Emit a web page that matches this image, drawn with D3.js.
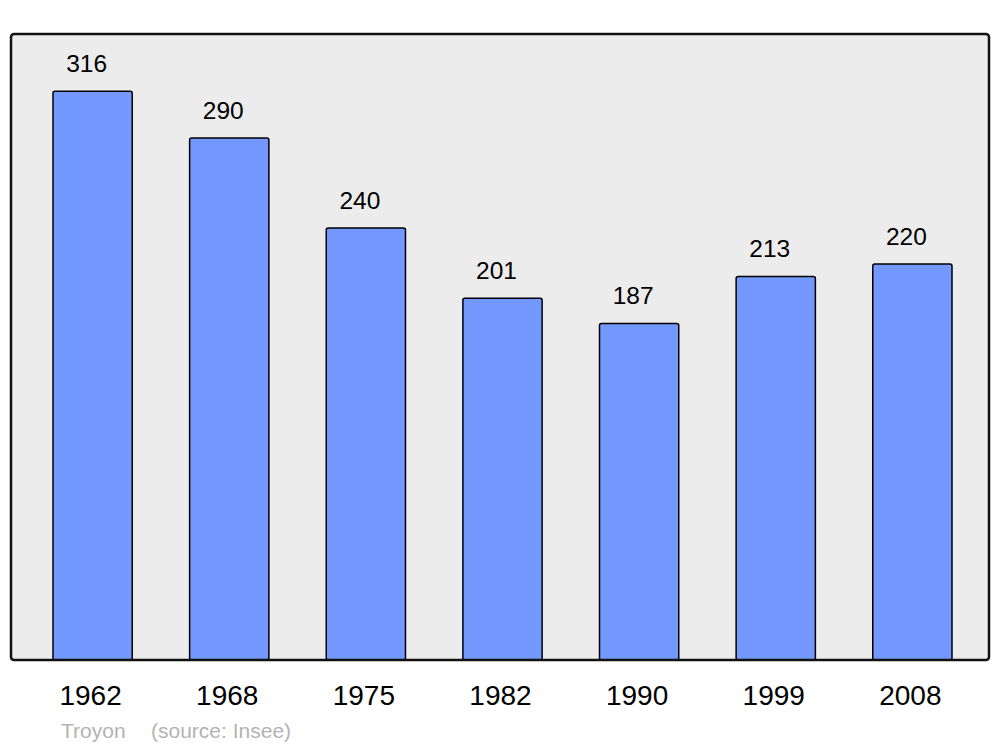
<!DOCTYPE html>
<html>
<head>
<meta charset="utf-8">
<script src="https://cdn.jsdelivr.net/npm/d3@7"></script>
<style>
  body { margin: 0; background: #fff; }
  svg { display: block; font-family: "Liberation Sans", Arial, sans-serif; }
</style>
</head>
<body>
<svg width="1000" height="747"></svg>
<script>
// population data
var years = ["1962", "1968", "1975", "1982", "1990", "1999", "2008"];
var population = [316, 290, 240, 201, 187, 213, 220];
var commune = "Troyon";
var source = "(source: Insee)";

var svg = d3.select("svg");

// frame of the plot
var frame = {x0: 11, y0: 34, x1: 989, y1: 660};

var x = d3.scaleBand()
    .domain(years)
    .range([53, 952])
    .paddingInner(0.42)
    .paddingOuter(0);

// 1.8 px per inhabitant
var y = d3.scaleLinear()
    .domain([0, (frame.y1 - frame.y0) / 1.8])
    .range([frame.y1, frame.y0]);

svg.append("rect")
    .attr("x", frame.x0)
    .attr("y", frame.y0)
    .attr("width", frame.x1 - frame.x0)
    .attr("height", frame.y1 - frame.y0)
    .attr("rx", 3)
    .style("fill", "#ececec");

var data = years.map(function(d, i) { return {year: d, pop: population[i]}; });

svg.selectAll(".bar")
    .data(data)
    .enter()
    .append("rect")
    .attr("class", "bar")
    .attr("x", function(d) { return x(d.year); })
    .attr("y", function(d) { return y(d.pop); })
    .attr("width", x.bandwidth())
    .attr("height", function(d) { return y(0) - y(d.pop); })
    .attr("rx", 2)
    .style("fill", "#7399ff")
    .style("stroke", "#000")
    .style("stroke-width", 1.5);

// frame border drawn on top
svg.append("rect")
    .attr("x", frame.x0)
    .attr("y", frame.y0)
    .attr("width", frame.x1 - frame.x0)
    .attr("height", frame.y1 - frame.y0)
    .attr("rx", 3)
    .style("fill", "none")
    .style("stroke", "#111")
    .style("stroke-width", 2.5);

// value labels
svg.selectAll(".val")
    .data(data)
    .enter()
    .append("text")
    .attr("class", "val")
    .attr("x", function(d) { return x(d.year) + x.bandwidth() / 2 - 6; })
    .attr("y", function(d) { return y(d.pop) - 19.5; })
    .attr("text-anchor", "middle")
    .style("font-size", "24.5px")
    .text(function(d) { return d.pop; });

// year labels
svg.selectAll(".yr")
    .data(years)
    .enter()
    .append("text")
    .attr("class", "yr")
    .attr("x", function(d) { return x(d) + x.bandwidth() / 2 - 2; })
    .attr("y", 705)
    .attr("text-anchor", "middle")
    .style("font-size", "28px")
    .text(function(d) { return d; });

svg.append("text")
    .attr("x", 61)
    .attr("y", 738)
    .style("font-size", "21px")
    .style("fill", "#b3b3b3")
    .text(commune);

svg.append("text")
    .attr("x", 151)
    .attr("y", 738)
    .style("font-size", "21px")
    .style("fill", "#b3b3b3")
    .text(source);
</script>
</body>
</html>
